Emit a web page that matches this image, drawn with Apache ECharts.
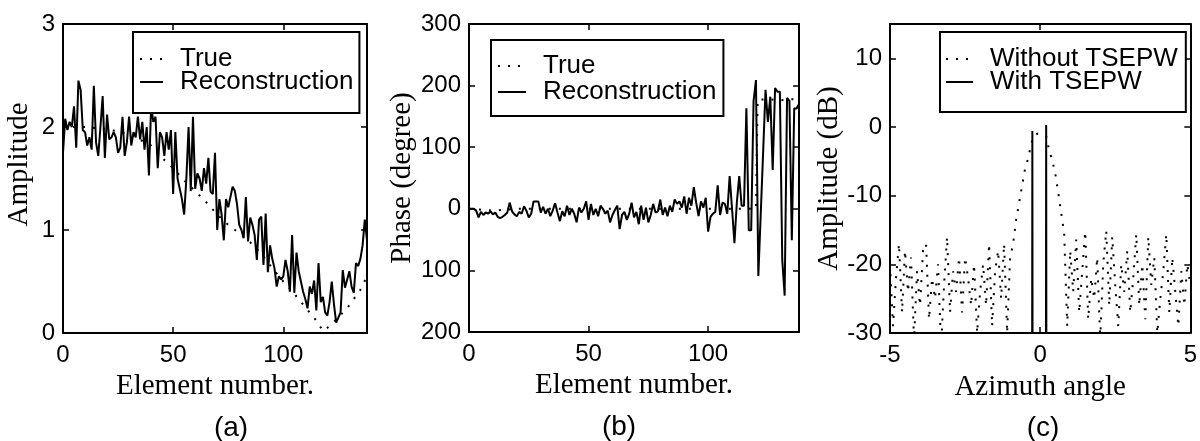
<!DOCTYPE html>
<html>
<head>
<meta charset="utf-8">
<script src="https://cdn.jsdelivr.net/npm/echarts@6/dist/echarts.min.js"></script>
<style>
html,body{margin:0;padding:0;background:#fff;}
#chart{width:1200px;height:441px;}
</style>
</head>
<body>
<div id="chart"></div>
<script>
// ---------- (a) Amplitude vs element number ----------
const ampReconstruction = [
  1.75, 2.08, 1.97, 2.05, 2.0, 2.2, 1.8, 2.45, 2.36, 1.97,
  1.95, 1.82, 1.9, 1.78, 2.4, 1.85, 1.72, 2.0, 2.3, 1.7,
  2.12, 1.88, 1.9, 1.95, 1.9, 1.75, 1.8, 2.1, 1.72, 1.85,
  2.1, 1.82, 1.95, 1.9, 2.1, 1.88, 2.05, 1.78, 2.0, 1.53,
  2.2, 2.05, 2.1, 1.6, 1.95, 1.9, 1.72, 1.95, 1.78, 1.97,
  1.35, 1.95, 1.5, 1.4, 1.3, 1.15, 1.5, 2.0, 1.38, 2.1,
  1.4, 1.55, 1.5, 1.38, 1.6, 1.45, 1.7, 1.37, 1.35, 1.75,
  1.0, 1.3, 1.15, 0.9, 1.3, 1.22, 1.32, 1.42, 1.38, 1.25,
  1.05, 1.0, 0.92, 1.32, 0.89, 1.12, 1.05, 0.95, 0.71, 1.1,
  1.13, 0.66, 1.16, 0.59, 0.85, 0.72, 0.63, 0.45, 0.55, 0.52,
  0.55, 0.71, 0.6, 0.4, 0.95, 0.39, 0.78, 0.6, 0.5, 0.4,
  0.33, 0.24, 0.45, 0.38, 0.51, 0.22, 0.68, 0.3, 0.35, 0.2,
  0.17, 0.3, 0.5, 0.28, 0.1, 0.15, 0.2, 0.61, 0.44, 0.52,
  0.6, 0.45, 0.39, 0.68, 0.65, 0.72, 0.85, 1.1, 0.9
];
const ampTrueElements = [0, 10, 20, 30, 40, 45, 50, 55, 60, 65, 70, 75, 80, 85, 90, 95, 100, 105, 110, 115, 118, 120, 125, 130, 135, 138];
const ampTrueValues   = [2.0, 2.0, 1.98, 1.93, 1.82, 1.70, 1.6, 1.48, 1.38, 1.27, 1.15, 1.05, 0.97, 0.88, 0.77, 0.63, 0.5, 0.38, 0.25, 0.12, 0.02, 0.05, 0.15, 0.27, 0.42, 0.55];

// ---------- (b) Phase vs element number ----------
const phaseReconstruction = [
  0, 0, 0, -3, -14, -5, -10, -6, -8, -4,
  -9, -6, -13, -15, -13, -10, -6, 10, -4, -9,
  -12, -5, -8, 4, -3, -14, -8, 12, 12, 12,
  -6, 3, -8, 0, -12, -3, 9, -6, -20, -4,
  -12, 5, -10, 0, -8, -22, 2, -6, 0, 12,
  -18, 8, -10, 0, -12, 5, 0, -8, -3, -22,
  -10, -2, 5, -33, -10, -5, -18, -8, 10, -14,
  -5, -25, 5, -18, 2, -22, -10, 8, -6, -4,
  15, -10, 2, -12, 5, -5, 15, 8, 12, 2,
  20, -8, 18, 5, 35, 10, -12, 12, 2, 18,
  -37, -13, -8, -5, 38, -10, 10, 8, -8, 53,
  0, -56, 10, 53, 5, 5, 163, -35, -35, 175,
  209, -109, -8, 92, 193, 141, 182, 63, 196, 190,
  190, -83, -141, 180, 175, -51, 163, 163, 170
];
const phaseTrueElements = [0, 10, 20, 30, 40, 50, 60, 70, 80, 90, 100, 110, 120, 120.7, 125, 130, 135, 138];
const phaseTrueValues   = [0, -3, 0, 0, 0, 0, 0, 0, 0, 0, 0, 0, 0, 177, 178, 176, 178, 177];

// ---------- (c) Amplitude (dB) vs azimuth angle ----------
const withoutTsepwDb = [
  -20, -29, -22, -17, -27, -18, -24, -19, -31, -21,
  -26, -18, -17, -28, -22, -25, -20, -32, -23, -16,
  -27, -21, -24, -19, -27, -19, -22, -26, -20, -30,
  -24, -20, -26, -17, -29, -21, -18, -25, -17, -30,
  -19, -17, -13.5, -11, -8.5, -6, -4.6, -2.5, -1.2, -1,
  -1, -1.1, -1.3, -3.4, -4.8, -6.7, -9.5, -12.5, -15.5, -29,
  -18, -24, -16.4, -27, -21, -15.2, -28, -22, -25, -19,
  -31, -20, -15.1, -26, -16, -23, -29, -20, -24, -18,
  -27, -22, -15.6, -26, -20, -28, -16, -23, -19, -30,
  -25, -21, -15.6, -27, -19, -24, -29, -21, -26, -20,
  -23
];
const withoutTsepwStart = -5;
const withoutTsepwStep = 0.1;
const withTsepwAngles = [-0.28, -0.26, -0.24, 0.18, 0.2, 0.22];
const withTsepwDb     = [-100, -0.6, -100, -100, 0.3, -100];

// tick label text
const xTicksElements = [0, 50, 100];
const phaseTickLabels = {300: '300', 200: '200', 100: '100', 0: '0', '-100': '100', '-200': '200'};

// ---------- build ----------
const ampRecPairs = ampReconstruction.map((v, i) => [i, v]);
const ampTruePairs = ampTrueElements.map((x, i) => [x, ampTrueValues[i]]);
const phaseRecPairs = phaseReconstruction.map((v, i) => [i, v]);
const phaseTruePairs = phaseTrueElements.map((x, i) => [x, phaseTrueValues[i]]);
const withoutPairs = withoutTsepwDb.map((v, i) => [+(withoutTsepwStart + i * withoutTsepwStep).toFixed(2), v]);
const withPairs = withTsepwAngles.map((x, i) => [x, withTsepwDb[i]]);

const SANS = 'Liberation Sans, Arial, sans-serif';
const SERIF = 'Liberation Serif, Times New Roman, serif';
const tickFont = {color: '#000', fontFamily: SANS, fontSize: 24};
const nameFont = {color: '#000', fontFamily: SERIF, fontSize: 29};

function mainX(grid, min, max, interval, name, gap, formatter, showMax) {
  return {
    type: 'value', gridIndex: grid, position: 'bottom', min, max, interval,
    name, nameLocation: 'middle', nameGap: gap, nameTextStyle: nameFont,
    axisLine: {show: true, onZero: false, lineStyle: {color: '#000', width: 2}},
    axisTick: {show: true, inside: true, length: 6, lineStyle: {color: '#000', width: 1.5}},
    axisLabel: Object.assign({margin: 10, showMaxLabel: !!showMax, showMinLabel: true, formatter}, tickFont),
    splitLine: {show: false}
  };
}
function mirrorX(grid, min, max, interval) {
  return {
    type: 'value', gridIndex: grid, position: 'top', min, max, interval,
    axisLine: {show: true, onZero: false, lineStyle: {color: '#000', width: 2}},
    axisTick: {show: true, inside: true, length: 6, lineStyle: {color: '#000', width: 1.5}},
    axisLabel: {show: false}, splitLine: {show: false}
  };
}
function mainY(grid, min, max, interval, name, gap, formatter, namePad) {
  return {
    type: 'value', gridIndex: grid, position: 'left', min, max, interval,
    name, nameLocation: 'middle', nameGap: gap,
    nameTextStyle: Object.assign({padding: namePad || 0}, nameFont),
    axisLine: {show: true, onZero: false, lineStyle: {color: '#000', width: 2}},
    axisTick: {show: true, inside: true, length: 6, lineStyle: {color: '#000', width: 1.5}},
    axisLabel: Object.assign({margin: 8, formatter}, tickFont),
    splitLine: {show: false}
  };
}
function mirrorY(grid, min, max, interval) {
  return {
    type: 'value', gridIndex: grid, position: 'right', min, max, interval,
    axisLine: {show: true, onZero: false, lineStyle: {color: '#000', width: 2}},
    axisTick: {show: true, inside: true, length: 6, lineStyle: {color: '#000', width: 1.5}},
    axisLabel: {show: false}, splitLine: {show: false}
  };
}
const elemFormatter = v => (xTicksElements.indexOf(v) >= 0 ? String(v) : '');
const legendBase = {
  orient: 'vertical', backgroundColor: '#fff', borderColor: '#000', borderWidth: 2,
  itemWidth: 24, itemHeight: 14, itemGap: -3, selectedMode: false,
  itemStyle: {color: 'transparent', borderWidth: 0, opacity: 0},
  textStyle: {color: '#000', fontFamily: SANS, fontSize: 26, lineHeight: 23, padding: [0, 0, 0, 12]},
  formatter: n => n.slice(2)
};

const option = {
  backgroundColor: '#fff',
  animation: false,
  grid: [
    {left: 63, top: 24, width: 304, height: 309},
    {left: 469, top: 24, width: 330, height: 308},
    {left: 890, top: 24, width: 301, height: 309}
  ],
  xAxis: [
    mainX(0, 0, 138, 50, 'Element number.', 38, elemFormatter, false),
    mirrorX(0, 0, 138, 50),
    mainX(1, 0, 138, 50, 'Element number.', 37, elemFormatter, false),
    mirrorX(1, 0, 138, 50),
    mainX(2, -5, 5, 5, 'Azimuth angle', 40, v => String(v), true),
    mirrorX(2, -5, 5, 5)
  ],
  yAxis: [
    mainY(0, 0, 3, 1, 'Amplitude', 29, v => String(v), [0, 0, 0, 28]),
    mirrorY(0, 0, 3, 1),
    mainY(1, -200, 300, 100, 'Phase (degree)', 51, v => phaseTickLabels[v] !== undefined ? phaseTickLabels[v] : ''),
    mirrorY(1, -200, 300, 100),
    mainY(2, -30, 15, 10, 'Amplitude (dB)', 35, v => (v % 10 === 0 ? String(v) : '')),
    mirrorY(2, -30, 15, 10)
  ],
  legend: [
    Object.assign({}, legendBase, {left: 133, top: 32, padding: [14, 6, 18, 6], itemWidth: 23,
      data: ['a:True', 'a:Reconstruction']}),
    Object.assign({}, legendBase, {left: 491, top: 40, padding: [13, 7, 11, 6], itemWidth: 28, itemGap: 0,
      data: ['b:True', 'b:Reconstruction']}),
    Object.assign({}, legendBase, {left: 940, top: 32, padding: [14, 8, 17, 5], itemWidth: 27,
      data: ['c:Without TSEPW', 'c:With TSEPW']})
  ],
  series: []
};

const dotted = {color: '#000', width: 2, type: [2, 8]};
const solid = {color: '#000', width: 2, type: 'solid'};
option.series = [
  {name: 'a:True', type: 'line', xAxisIndex: 0, yAxisIndex: 0, data: ampTruePairs,
   symbol: 'none', showSymbol: false, lineStyle: dotted, itemStyle: {color: '#000'}, z: 2},
  {name: 'a:Reconstruction', type: 'line', xAxisIndex: 0, yAxisIndex: 0, data: ampRecPairs,
   symbol: 'none', showSymbol: false, lineStyle: solid, itemStyle: {color: '#000'}, z: 3},
  {name: 'b:True', type: 'line', xAxisIndex: 2, yAxisIndex: 2, data: phaseTruePairs,
   symbol: 'none', showSymbol: false, lineStyle: dotted, itemStyle: {color: '#000'}, z: 2},
  {name: 'b:Reconstruction', type: 'line', xAxisIndex: 2, yAxisIndex: 2, data: phaseRecPairs,
   symbol: 'none', showSymbol: false, lineStyle: solid, itemStyle: {color: '#000'}, z: 3},
  {name: 'c:Without TSEPW', type: 'line', xAxisIndex: 4, yAxisIndex: 4, data: withoutPairs,
   symbol: 'none', showSymbol: false, lineStyle: {color: '#000', width: 2, type: [2, 8]}, itemStyle: {color: '#000'}, clip: true, z: 2},
  {name: 'c:With TSEPW', type: 'line', xAxisIndex: 4, yAxisIndex: 4, data: withPairs,
   symbol: 'none', showSymbol: false, lineStyle: solid, itemStyle: {color: '#000'}, clip: true, z: 3}
];

option.graphic = [
  {type: 'text', style: {text: '(a)', x: 231, y: 428, align: 'center', verticalAlign: 'middle', font: '28px ' + SANS, fill: '#000'}},
  {type: 'text', style: {text: '(b)', x: 619, y: 427, align: 'center', verticalAlign: 'middle', font: '28px ' + SANS, fill: '#000'}},
  {type: 'text', style: {text: '(c)', x: 1043, y: 428, align: 'center', verticalAlign: 'middle', font: '28px ' + SANS, fill: '#000'}}
];

const chart = echarts.init(document.getElementById('chart'), null, {renderer: 'canvas'});
chart.setOption(option);
</script>
</body>
</html>
